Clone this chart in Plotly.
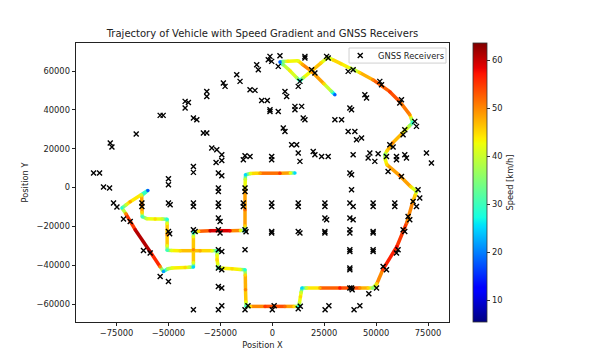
import plotly.graph_objects as go
from plotly.colors import sample_colorscale

# ---------------- data ----------------
# vehicle trajectory waypoints (position in metres, speed in km/h)
traj_x = [30150, 28500, 24860, 19090, 14500, 12360, 7550, 5200, 3700, 5300,
          8510, 11700, 13320, 15000, 19090, 23500, 26780, 29500, 33030, 37000,
          39280, 42000, 48420, 56590, 61400, 66210, 67000, 67650, 66000, 62840,
          58030, 55300, 54190, 54400, 55150, 61400, 66690, 69430, 68800, 67650,
          64760, 59960, 53220, 50340, 48420, 46200, 42170, 32550, 22930, 16500,
          14280, 13900, 13560, 13100, 12840, 10500, 6110, -3510, -10500, -12650,
          -12700, -12890, -13000, -13130, -15500, -19380, -24000, -26110, -26300, -26590,
          -26590, -26590, -29000, -34760, -44380, -48500, -50630, -50630, -50630, -50630,
          -50630, -53000, -56400, -60500, -62650, -62700, -62790, -62890, -59910, -63130,
          -68420, -70400, -72410, -70500, -66010, -58800, -54000, -52410, -50300, -48220,
          -41970, -40000, -37980, -37980, -37980, -37980, -37980, -35500, -29950, -20340,
          -15300, -13130, -13130, -13130, -13130, -13000, -12890, -10500, -5910, 3700,
          8700, 10910]
traj_y = [47890, 49600, 53560, 59750, 63500, 65420, 65160, 65000, 64750, 63300,
          60260, 56700, 55110, 56700, 60260, 64300, 67120, 65700, 63870, 61800,
          60780, 59300, 55620, 49440, 44280, 37580, 35500, 33460, 31700, 28300,
          23150, 19000, 16960, 14500, 11800, 6130, 460, -1960, -4000, -7270,
          -18090, -30470, -42320, -49540, -51760, -51760, -51760, -51760, -51760, -51760,
          -51760, -54000, -56240, -59300, -61240, -61240, -61240, -61240, -61240, -61240,
          -59000, -52630, -45000, -42320, -42200, -41810, -41600, -41550, -39300, -37170,
          -34700, -32530, -32530, -32530, -32530, -32400, -32270, -30000, -24280, -18500,
          -16290, -16200, -16190, -16000, -15000, -12800, -8820, -4180, -1440, -3660,
          -7270, -8900, -10520, -13500, -21700, -33040, -40800, -43200, -41800, -41450,
          -41190, -41000, -40930, -38700, -32010, -25400, -23250, -22500, -22220, -22220,
          -22100, -22060, -19800, -11390, -1080, 4300, 6650, 7300, 7420, 7420,
          7500, 7530]
traj_speed = [18, 35, 45, 52, 48, 42, 44, 35, 18, 35,
              44, 38, 26, 38, 48, 45, 38, 45, 45, 42,
              36, 45, 50, 55, 52, 50, 38, 28, 38, 44,
              50, 45, 35, 42, 45, 52, 45, 38, 45, 48,
              52, 58, 55, 45, 35, 45, 50, 57, 48, 40,
              25, 40, 45, 40, 28, 45, 52, 55, 45, 30,
              42, 50, 45, 28, 42, 45, 42, 30, 42, 45,
              42, 28, 42, 48, 45, 42, 30, 42, 50, 42,
              28, 40, 45, 40, 30, 45, 52, 45, 18, 40,
              48, 40, 28, 50, 60, 62, 50, 22, 38, 42,
              45, 40, 25, 42, 50, 42, 28, 45, 60, 58,
              42, 25, 45, 52, 45, 40, 25, 42, 48, 55,
              42, 25]

# GNSS receiver positions
rx = [-7500, -6730, -17120, -15530, -23560, -22740, -31540, -31540, -41970, -40390,
      -41970, -10720, -8320, -5100, -2400, -1100, -53990, -52550, -37980, -36350,
      -33180, -31540, -78030, -77220, -65530, -29140, -26730, -24330, -24330, -27070,
      -13130, -13940, -86060, -83180, -50000, -50000, -37980, -37980, -25960, -24330,
      -81260, -78370, -76450, -74810, -71640, -68420, -62790, -62790, -50000, -49180,
      -37980, -37980, -25960, -25960, -25960, -25960, -13130, -13130, -13940, -13940,
      -25960, -25150, -50000, -49420, -37980, -37170, -25960, -25150, -13130, -12650,
      -62020, -58800, -25960, -24330, -13130, -53990, -50000, -25960, -24330, -25960,
      -24330, -37980, -25960, -24330, -13130, -11700, 0, 900, 12500, 13500,
      25430, 27260, 39380, 42170, 38460, 46500, 37360, 38170,
      -1110, -1920, -290, 3700, 2880, 15720, 15720, 26160, 26920, 18940,
      20530, 13320, 12500, 36540, 38940, 51780, 52600, 62210, 61400, 44570,
      45390, 68610, 69430, 63800, 62990, 56590, 58180, 46970, 46160, 49380,
      50970, 55000, 59810, 59810, 63800, 64620, 74240, 76640, 6110, 6920,
      -1110, 2880, 10910, 14140, 10910, 14900, 15720, 5290, 6110, 37360,
      38170, 30150, 33370, 36540, 39760, 40580, 42980, 9330, 11730, 19710,
      20530, 23750, 26920, -290, -290, 12500, 13320, 38940, 37360, 38170,
      55770, 62210, -10720,
      38170, -290, -290, 12500, 12500, 25340, 25340, 37360, 38940, 48560,
      48560, 58990, 58990, 25340, 26160, 37360, 38940, -290, -290, 12500,
      13320, 25340, 25340, 37360, 37360, 48560, 48560, 37360, 37360, 48560,
      48560, 37360, 37360, 70200, 71010, 67790, 69430, 65390, 66210, 62990,
      63800, 60580, 59810, 53370, 55000, 50190]
ry = [63350, 60780, 58200, 54750, 53920, 52170, 49590, 47010, 44440, 43920,
      41030, 50470, 50110, 44950, 44950, 40160, 37220, 37220, 35880, 35000,
      28150, 28150, 22990, 20930, 27630, 20410, 19540, 16960, 14020, 12990,
      16440, 14380, 7530, 7530, 4590, 1490, 10930, 7840, 7530, 6130,
      310, -210, -7940, -10000, -16190, -17420, -7940, -9690, -7940, -8820,
      -7940, -9690, -210, -1960, -7940, -9690, -210, -1960, -7940, -9690,
      -15670, -17420, -22580, -23760, -21700, -22580, -21700, -23400, -21700, -22730,
      -32370, -33710, -32010, -32890, -32010, -45780, -48350, -41450, -42320, -50930,
      -51760, -62950, -62950, -60890, -62950, -60890, -62950, -60890, -62500, -61200,
      -62950, -60890, -62950, -60890, -52630, -54700, -51760, -51760,
      67640, 65930, 65060, 68000, 62480, 67640, 66810, 67640, 66810, 60780,
      59080, 54750, 52170, 59900, 60780, 54750, 53040, 45310, 43610, 47890,
      46190, 34130, 31550, 29850, 27270, 22110, 20930, 17840, 15260, 13510,
      17480, 16080, 16080, 14380, 16960, 15260, 17840, 12680, 49590, 47010,
      39280, 39280, 41860, 41860, 40160, 35880, 35000, 30720, 28970, 41030,
      40160, 35000, 35000, 28970, 28970, 24690, 25570, 22110, 22110, 18660,
      16960, 16080, 16080, 16080, 14380, 17840, 13510, 16960, 7530, 6650,
      8350, 5770, 16080,
      -1080, -7940, -9690, -7940, -9690, -7940, -9690, -7940, -9690, -7940,
      -9690, -7940, -9690, -15670, -16550, -15670, -16550, -22580, -23400, -22580,
      -23400, -22580, -23400, -21700, -23400, -22580, -23400, -32010, -32890, -32010,
      -32890, -41450, -42320, -1080, -5360, -7110, -9690, -14850, -16550, -21700,
      -22580, -32010, -33710, -40620, -42320, -51760]

x_ticks = [-75000, -50000, -25000, 0, 25000, 50000, 75000]
y_ticks = [-60000, -40000, -20000, 0, 20000, 40000, 60000]
cbar_ticks = [10, 20, 30, 40, 50, 60]
speed_min, speed_max = 5.5, 63.6
legend_label = "GNSS Receivers"

# ---------------- styling ----------------
JET = [
    [0.0, 'rgb(0,0,128)'], [0.11, 'rgb(0,0,255)'], [0.125, 'rgb(0,0,255)'],
    [0.34, 'rgb(0,219,255)'], [0.35, 'rgb(0,230,247)'], [0.375, 'rgb(21,255,226)'],
    [0.64, 'rgb(239,255,8)'], [0.65, 'rgb(247,246,0)'], [0.66, 'rgb(255,236,0)'],
    [0.89, 'rgb(255,19,0)'], [0.91, 'rgb(232,0,0)'], [1.0, 'rgb(128,0,0)'],
]
FONT = "DejaVu Sans"
TXT = "#222"
RX_MARKER = dict(symbol="x-thin", size=5, color="black",
                 line=dict(color="black", width=1.4))

fig = go.Figure()

# coloured trajectory: one short line per pair of consecutive waypoints
for i in range(len(traj_x) - 1):
    v = 0.5 * (traj_speed[i] + traj_speed[i + 1])
    t = min(max((v - speed_min) / (speed_max - speed_min), 0), 1)
    col = sample_colorscale(JET, [t])[0]
    fig.add_trace(go.Scatter(
        x=[traj_x[i], traj_x[i + 1]], y=[traj_y[i], traj_y[i + 1]],
        mode="lines", line=dict(color=col, width=3.5),
        showlegend=False, hoverinfo="skip"))

# waypoints (round joins) + colour bar
fig.add_trace(go.Scatter(
    x=traj_x, y=traj_y, mode="markers", showlegend=False,
    marker=dict(size=3.5, color=traj_speed, colorscale=JET,
                cmin=speed_min, cmax=speed_max, line=dict(width=0),
                colorbar=dict(
                    x=1.0645, xanchor="left", xpad=0, y=0.5, yanchor="middle",
                    ypad=0, len=1, lenmode="fraction", thickness=14,
                    outlinewidth=0.8, outlinecolor="#333",
                    tickvals=cbar_ticks, ticks="outside", ticklen=3.5,
                    tickwidth=0.8, tickcolor="#333",
                    tickfont=dict(family=FONT, size=8.3, color=TXT),
                    title=dict(text="Speed [km/h]", side="right",
                               font=dict(family=FONT, size=8.3, color=TXT))))))

# GNSS receivers
fig.add_trace(go.Scatter(
    x=rx, y=ry, mode="markers", name=legend_label, showlegend=False,
    marker=RX_MARKER))

# legend (matplotlib-style compact box in the upper right)
fig.add_shape(type="rect", xref="paper", yref="paper",
              x0=0.732, x1=0.992, y0=0.928, y1=0.982, layer="below",
              line=dict(color="#d0d0d0", width=1), fillcolor="rgba(255,255,255,0.8)")
fig.add_trace(go.Scatter(x=[0.762], y=[0.955], xaxis="x2", yaxis="y2",
                         mode="markers", marker=RX_MARKER, showlegend=False,
                         hoverinfo="skip"))
fig.add_annotation(x=0.805, y=0.955, xref="paper", yref="paper",
                   text=legend_label, showarrow=False, xanchor="left",
                   yanchor="middle", font=dict(family=FONT, size=8.3, color=TXT))

axis_common = dict(showline=True, linecolor=TXT, linewidth=0.8, mirror=True,
                   ticks="outside", ticklen=3.5, tickwidth=0.8, tickcolor=TXT,
                   showgrid=False, zeroline=False, tickformat="d",
                   automargin=False,
                   tickfont=dict(family=FONT, size=8.3, color=TXT))

# the page has an 8px body margin, so the figure is sized to fit inside it
fig.update_layout(
    width=588, height=346,
    margin=dict(l=68, r=147, t=35, b=32, autoexpand=False),
    paper_bgcolor="white", plot_bgcolor="white",
    font=dict(family=FONT, size=8.3, color=TXT),
    title=dict(text="Trajectory of Vehicle with Speed Gradient and GNSS Receivers",
               x=0.5, xref="paper", xanchor="center",
               y=1 - 25 / 346, yref="container", yanchor="middle",
               font=dict(family=FONT, size=10, color=TXT)),
    xaxis=dict(range=[-94520, 85100], tickvals=x_ticks,
               title=dict(text="Position X", standoff=4,
                          font=dict(family=FONT, size=8.3, color=TXT)),
               **axis_common),
    yaxis=dict(range=[-69280, 74530], tickvals=y_ticks,
               title=dict(text="Position Y", standoff=6,
                          font=dict(family=FONT, size=8.3, color=TXT)),
               **axis_common),
    xaxis2=dict(range=[0, 1], overlaying="x", visible=False),
    yaxis2=dict(range=[0, 1], overlaying="y", visible=False),
    showlegend=False,
)

fig.write_html("out.html")
